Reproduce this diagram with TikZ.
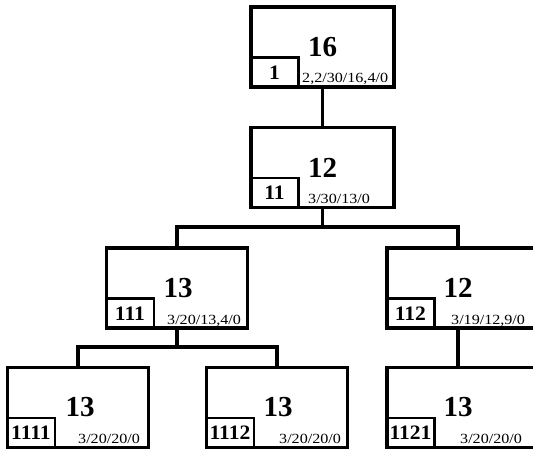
\documentclass[tikz,border=0pt]{standalone}
\usepackage{fontspec}
\setmainfont{Liberation Serif}
\newfontfamily\lblfont[FakeStretch=1.15]{Liberation Serif}
\newfontfamily\idfont[FakeStretch=1.05]{Liberation Serif}
\begin{document}
\begin{tikzpicture}[x=1pt,y=-1pt,
  box/.style={draw,line width=3.4pt,minimum width=143pt,minimum height=80pt,inner sep=0pt},
  rbox/.style={box,minimum width=150pt},
  idbox/.style={draw,line width=2.3pt,minimum width=48pt,minimum height=30pt,inner sep=0pt,anchor=south west,
    font=\idfont\bfseries\fontsize{20.5}{20.5}\selectfont},
  num/.style={font=\bfseries\fontsize{29}{29}\selectfont,inner sep=0pt},
  lbl/.style={font=\lblfont\fontsize{14}{14}\selectfont,inner sep=0pt,anchor=base west},
  conn/.style={line width=3.2pt}]
\useasboundingbox (0,0) rectangle (533,449);
\clip (0,0) rectangle (533,449);
% boxes
\node[box] (n1) at (322.5,47) {};
\node[box] (n11) at (322.5,167.5) {};
\node[box,minimum width=141pt] (n111) at (177,288) {};
\node[rbox] (n112) at (462,288) {};
\node[box,minimum width=141pt] (n1111) at (78,407.5) {};
\node[box,minimum width=141pt] (n1112) at (277,407.5) {};
\node[rbox] (n1121) at (462,407.5) {};
% big numbers
\node[num] (t1) at (322.5,47) {16};
\node[num] (t11) at (322.5,167.5) {12};
\node[num] (t111) at (178,288) {13};
\node[num] (t112) at (458,288) {12};
\node[num] (t1111) at (80,407) {13};
\node[num] (t1112) at (278,407) {13};
\node[num] (t1121) at (458,407) {13};
% id boxes
\node[idbox] (i1) at (n1.south west) {1};
\node[idbox] (i11) at (n11.south west) {11};
\node[idbox] (i111) at (n111.south west) {111};
\node[idbox] (i112) at (n112.south west) {112};
\node[idbox] (i1111) at (n1111.south west) {1111};
\node[idbox] (i1112) at (n1112.south west) {1112};
\node[idbox] (i1121) at (n1121.south west) {1121};
% labels
\node[lbl] (l1) at (302,83) {2,2/30/16,4/0};
\node[lbl] (l11) at (308,203.5) {3/30/13/0};
\node[lbl] (l111) at (167,324) {3/20/13,4/0};
\node[lbl] (l112) at (451,324) {3/19/12,9/0};
\node[lbl] (l1111) at (78,443) {3/20/20/0};
\node[lbl] (l1112) at (279,443) {3/20/20/0};
\node[lbl] (l1121) at (460,443) {3/20/20/0};
% connectors
\coordinate (b1) at (n11.south |- 0,227);
\coordinate (b2) at (n111.south |- 0,347);
\draw[conn] (n1.south) -- (n11.north);
\draw[conn] (n11.south) -- (b1);
\draw[conn] (n111.north) |- (b1) -| ([xshift=-4pt]n112.north);
\draw[conn] (n111.south) -- (b2);
\draw[conn] (n1111.north) |- (b2) -| (n1112.north);
\draw[conn] ([xshift=-4pt]n112.south) -- ([xshift=-4pt]n1121.north);
\end{tikzpicture}
\end{document}
